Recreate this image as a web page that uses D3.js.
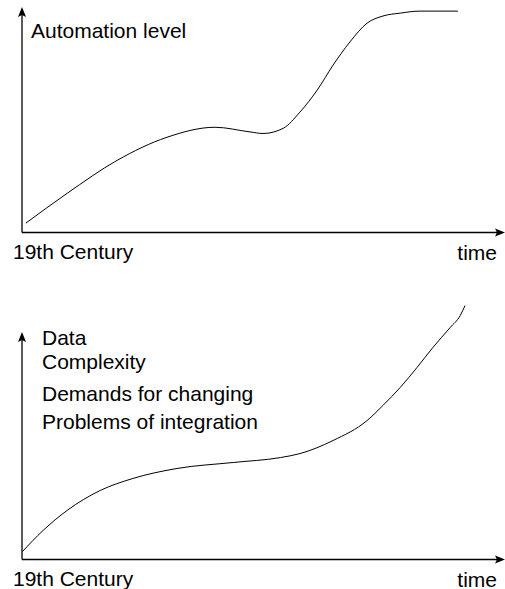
<!DOCTYPE html>
<html>
<head>
<meta charset="utf-8">
<script src="https://cdn.jsdelivr.net/npm/d3@7"></script>
<style>
  body { margin: 0; background: #fff; }
  svg { display: block; }
  text { font-family: "Liberation Sans", Arial, Helvetica, sans-serif; font-size: 21px; fill: #000; }
</style>
</head>
<body>
<svg id="chart" width="505" height="589"></svg>
<script>
// time runs 0..100 along the x axis, level 0..100 up the y axis
const automationTime  = [0.8, 9.4, 19.8, 30.2, 40.2, 47.5, 50.2, 54.4, 57.9, 61.5, 64.8, 68.3, 71.9, 75.2, 78.8, 82.9, 90.8];
const automationLevel = [4.2, 17.6, 32.4, 42.8, 47.3, 45.2, 44.5, 46.8, 54.1, 64.0, 75.2, 85.6, 94.1, 97.3, 98.6, 99.5, 99.5];

const dataTime  = [0.1, 4.4, 9.4, 16.3, 23.1, 32.3, 44.0, 53.8, 57.9, 64.8, 71.9, 75.2, 78.8, 82.3, 85.6, 89.2, 91.3, 92.3];
const dataLevel = [3.6, 13.1, 22.1, 31.1, 36.5, 41.0, 43.7, 45.9, 47.7, 53.6, 62.6, 69.4, 77.5, 86.5, 95.5, 104.5, 109.9, 114.4];

const topLabels = ["Automation level"];
const bottomLabels = ["Data", "Complexity", "Demands for changing", "Problems of integration"];
const xStartLabel = "19th Century";
const xEndLabel = "time";

const svg = d3.select("#chart");

function panel(g, times, levels, labels, labelYs, labelX, y0, y1, tip) {
  const x = d3.scaleLinear().domain([0, 100]).range([22, 502]);
  const y = d3.scaleLinear().domain([0, 100]).range([y0, y1]);

  // axes with arrow heads
  g.append("line").attr("x1", 22).attr("x2", 22).attr("y1", y0).attr("y2", tip + 6)
    .attr("stroke", "#000").attr("stroke-width", 1.3);
  g.append("line").attr("x1", 22).attr("x2", 498).attr("y1", y0).attr("y2", y0)
    .attr("stroke", "#000").attr("stroke-width", 1.3);
  g.append("path").attr("d", `M22,${tip} L26,${tip + 10} L22,${tip + 8} L18,${tip + 10} Z`).attr("fill", "#000");
  g.append("path").attr("d", `M505,${y0} L495,${y0 - 4} L497,${y0} L495,${y0 + 4} Z`).attr("fill", "#000");

  const pts = times.map((t, i) => [t, levels[i]]);
  const line = d3.line().x((d) => x(d[0])).y((d) => y(d[1])).curve(d3.curveMonotoneX);
  g.append("path").datum(pts).attr("d", line).attr("fill", "none").attr("stroke", "#000").attr("stroke-width", 1);

  labels.forEach((l, i) => g.append("text").attr("x", labelX).attr("y", labelYs[i]).text(l));
  g.append("text").attr("x", 13).attr("y", y0 + 26).text(xStartLabel);
  g.append("text").attr("x", 497).attr("y", y0 + 27).attr("text-anchor", "end").text(xEndLabel);
}

panel(svg.append("g"), automationTime, automationLevel, topLabels, [37.5], 31, 232.5, 10, 7);
panel(svg.append("g"), dataTime, dataLevel, bottomLabels, [345, 369, 401, 429], 42, 559.5, 337.5, 332);
</script>
</body>
</html>
